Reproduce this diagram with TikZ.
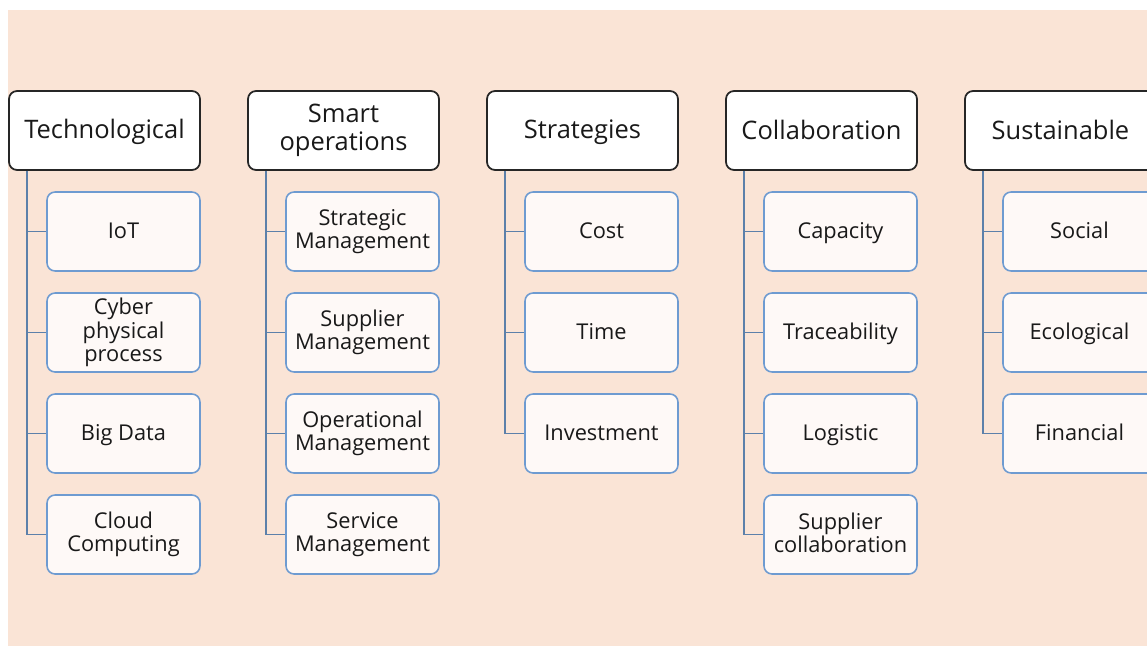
\documentclass[tikz,border=0pt]{standalone}
\usepackage{fontspec}
\setmainfont{Open Sans}
\definecolor{peach}{RGB}{250,228,214}
\definecolor{itemfill}{RGB}{254,249,247}
\definecolor{itemblue}{RGB}{110,155,209}
\definecolor{linkblue}{RGB}{92,128,170}
\newcommand\boxstrut{\rule[-0.18\baselineskip]{0pt}{\baselineskip}}
\begin{document}
\begin{tikzpicture}[x=0.02cm,y=-0.02cm,
    head/.style={draw=black!85, line width=1pt, fill=white, rounded corners=0.16cm,
      minimum width=3.82cm, minimum height=1.58cm, align=center, inner sep=1pt,
      text=black!90, font=\fontsize{14.5}{16}\selectfont,
      execute at begin node=\boxstrut, execute at end node=\boxstrut},
    item/.style={draw=itemblue, line width=0.9pt, fill=itemfill, rounded corners=0.16cm,
      minimum width=3.06cm, minimum height=1.58cm, align=center, inner sep=1pt,
      text=black!90, font=\fontsize{12.4}{13.2}\selectfont,
      execute at begin node=\boxstrut, execute at end node=\boxstrut},
    link/.style={draw=linkblue, line width=1.1pt}]
  \useasboundingbox (0,0) rectangle (1147,646);
  \clip (0,0) rectangle (1147,646);
  \fill[peach] (8,10) rectangle (1147,646);

  % headers
  \node[head] (tech) at (104.5,130.5) {Technological};
  \node[head] (smart) at (343.5,130.5) {Smart\\operations};
  \node[head] (strat) at (582.5,130.5) {Strategies};
  \node[head] (collab) at (821.5,130.5) {Collaboration};
  \node[head] (sust) at (1060.5,130.5) {Sustainable};

  % Technological
  \node[item] (iot) at (123.5,231.5) {IoT};
  \node[item] (cyber) at (123.5,332.5) {Cyber\\physical\\process};
  \node[item] (bigdata) at (123.5,433.5) {Big Data};
  \node[item] (cloud) at (123.5,534.5) {Cloud\\Computing};

  % Smart operations
  \node[item] (stratman) at (362.5,231.5) {Strategic\\Management};
  \node[item] (suppman) at (362.5,332.5) {Supplier\\Management};
  \node[item] (operman) at (362.5,433.5) {Operational\\Management};
  \node[item] (servman) at (362.5,534.5) {Service\\Management};

  % Strategies
  \node[item] (cost) at (601.5,231.5) {Cost};
  \node[item] (time) at (601.5,332.5) {Time};
  \node[item] (invest) at (601.5,433.5) {Investment};

  % Collaboration
  \node[item] (capac) at (840.5,231.5) {Capacity};
  \node[item] (trace) at (840.5,332.5) {Traceability};
  \node[item] (logist) at (840.5,433.5) {Logistic};
  \node[item] (suppcol) at (840.5,534.5) {Supplier\\collaboration};

  % Sustainable
  \node[item] (social) at (1079.5,231.5) {Social};
  \node[item] (ecolog) at (1079.5,332.5) {Ecological};
  \node[item] (financ) at (1079.5,433.5) {Financial};

  \begin{scope}[link]
    \draw ([xshift=0.38cm]tech.south west) |- (iot.west);
    \draw ([xshift=0.38cm]tech.south west) |- (cyber.west);
    \draw ([xshift=0.38cm]tech.south west) |- (bigdata.west);
    \draw ([xshift=0.38cm]tech.south west) |- (cloud.west);
    \draw ([xshift=0.38cm]smart.south west) |- (stratman.west);
    \draw ([xshift=0.38cm]smart.south west) |- (suppman.west);
    \draw ([xshift=0.38cm]smart.south west) |- (operman.west);
    \draw ([xshift=0.38cm]smart.south west) |- (servman.west);
    \draw ([xshift=0.38cm]strat.south west) |- (cost.west);
    \draw ([xshift=0.38cm]strat.south west) |- (time.west);
    \draw ([xshift=0.38cm]strat.south west) |- (invest.west);
    \draw ([xshift=0.38cm]collab.south west) |- (capac.west);
    \draw ([xshift=0.38cm]collab.south west) |- (trace.west);
    \draw ([xshift=0.38cm]collab.south west) |- (logist.west);
    \draw ([xshift=0.38cm]collab.south west) |- (suppcol.west);
    \draw ([xshift=0.38cm]sust.south west) |- (social.west);
    \draw ([xshift=0.38cm]sust.south west) |- (ecolog.west);
    \draw ([xshift=0.38cm]sust.south west) |- (financ.west);
  \end{scope}
\end{tikzpicture}
\end{document}
